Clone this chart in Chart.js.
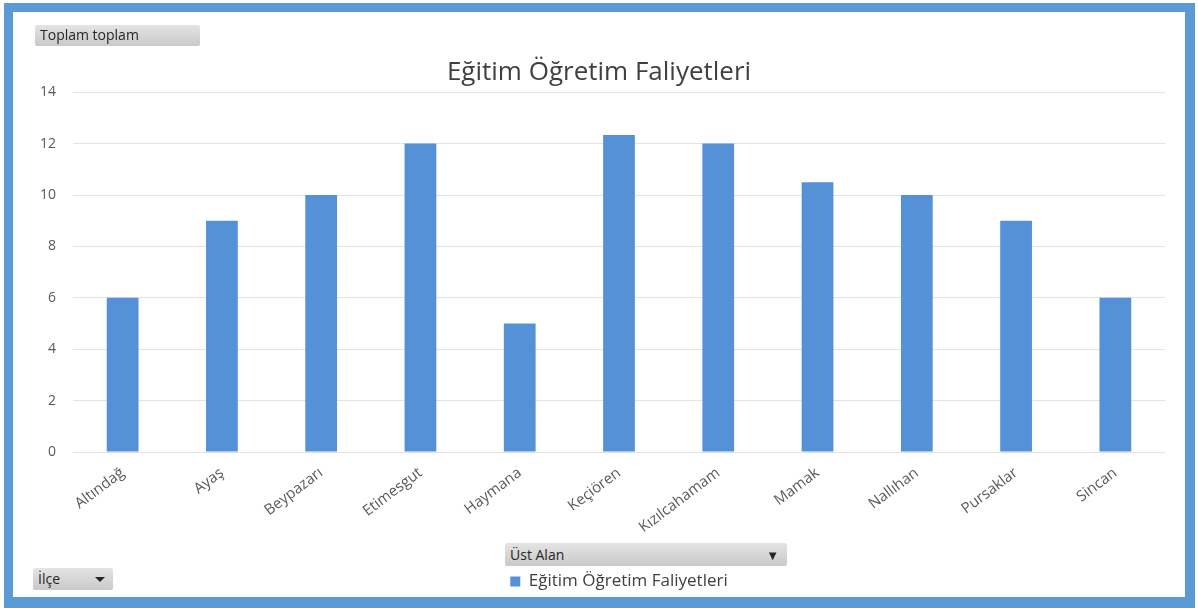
<!DOCTYPE html>
<html>
<head>
<meta charset="utf-8">
<script src="https://cdn.jsdelivr.net/npm/chart.js@4"></script>
<style>
  body { margin: 0; background: #fff; font-family: 'Open Sans', sans-serif; }
  #frame { position: absolute; left: 4px; top: 3px; width: 1172px; height: 585px;
    border: 9px solid #5b9bd5; border-bottom-width: 11px; border-right-width: 10px; background: #fff; }
  #wrap { position: absolute; left: 0; top: 0; width: 1172px; height: 585px; }
  .btn { position: absolute; background: linear-gradient(#e4e4e4, #c9c9c9); color: #262626;
    font-size: 14px; line-height: 20px; padding-left: 5px; box-sizing: border-box; border-radius: 2px; }
  .arrow { position: absolute; right: 8px; top: 9px; width: 0; height: 0;
    border-left: 5px solid transparent; border-right: 5px solid transparent; border-top: 5px solid #262626; }
</style>
</head>
<body>
<div id="frame">
  <div id="wrap"><canvas id="chart"></canvas></div>
  <div class="btn" style="left:22px;top:13px;width:165px;height:21px;">Toplam toplam</div>
  <div class="btn" style="left:492px;top:531px;width:282px;height:23px;line-height:23px;">Üst Alan
    <span style="position:absolute;right:8px;top:1px;font-size:13px;">▼</span></div>
  <div class="btn" style="left:20px;top:556px;width:80px;height:22px;line-height:22px;">İlçe<span class="arrow"></span></div>
</div>
<script>
const categories = ['Altındağ', 'Ayaş', 'Beypazarı', 'Etimesgut', 'Haymana', 'Keçiören', 'Kızılcahamam', 'Mamak', 'Nallıhan', 'Pursaklar', 'Sincan']
const values = [6, 9, 10, 12, 5, 12.33, 12, 10.5, 10, 9, 6]
const seriesName = 'Eğitim Öğretim Faliyetleri'
const chartTitle = 'Eğitim Öğretim Faliyetleri'

const ctx = document.querySelector('#chart').getContext('2d')
Chart.defaults.font.family = "'Open Sans', sans-serif"
Chart.defaults.color = '#595959'

const chart = new Chart(ctx, {
  type: 'bar',
  data: {
    labels: categories,
    datasets: [{
      label: seriesName,
      data: values,
      backgroundColor: '#5591d6',
      barPercentage: 0.32,
      categoryPercentage: 1
    }]
  },
  options: {
    responsive: true,
    maintainAspectRatio: false,
    animation: false,
    layout: { padding: { left: 20, right: 20, top: 0, bottom: -3 } },
    plugins: {
      title: {
        display: true,
        text: chartTitle,
        color: '#404040',
        font: { size: 26, weight: 'normal' },
        padding: { top: 45, bottom: 4 }
      },
      legend: {
        position: 'bottom',
        fullSize: false,
        labels: { boxWidth: 10, boxHeight: 10, font: { size: 17 }, color: '#404040', padding: 4 }
      },
      tooltip: { enabled: false }
    },
    scales: {
      x: {
        grid: { display: false },
        border: { display: false },
        ticks: { font: { size: 15 }, minRotation: 37, maxRotation: 37, padding: 4 },
        afterFit: scale => { scale.height = 117 }
      },
      y: {
        min: 0,
        max: 14,
        ticks: { stepSize: 2, font: { size: 14 }, padding: 17 },
        grid: { color: '#e3e3e3', drawTicks: false },
        border: { display: false },
        afterFit: scale => { scale.width = 40 }
      }
    }
  }
})
</script>
</body>
</html>
